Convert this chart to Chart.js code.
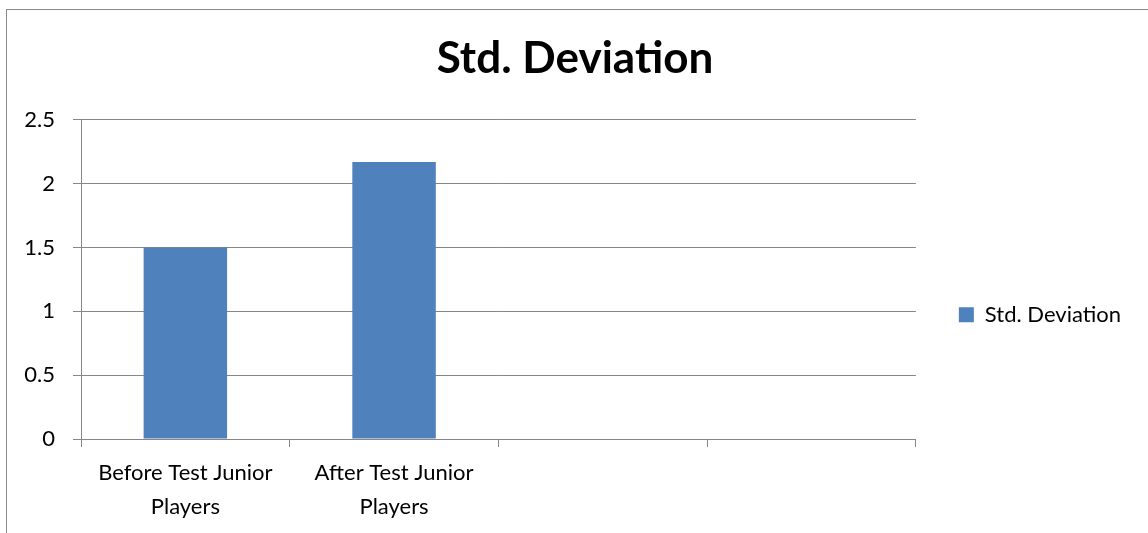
<!DOCTYPE html>
<html>
<head>
<meta charset="utf-8">
<script src="https://cdn.jsdelivr.net/npm/chart.js@4.4.0/dist/chart.umd.min.js"></script>
<style>
  body { margin: 0; background: #fff; }
  #wrap { position: relative; width: 1148px; height: 533px; overflow: hidden; }
  #frame { position: absolute; left: 6px; top: 9px; right: -10px; bottom: -10px; border-left: 1px solid #8a8a8a; border-top: 1px solid #8a8a8a; }
  canvas { position: absolute; left: 0; top: 0; }
</style>
</head>
<body>
<div id="wrap">
  <div id="frame"></div>
  <canvas id="chart" width="1148" height="533"></canvas>
</div>
<script>
const categories = [['Before Test Junior', 'Players'], ['After Test Junior', 'Players'], '', ''];
const stdDeviation = [1.5, 2.17, null, null];
const seriesName = 'Std. Deviation';
const yTicks = [0, 0.5, 1, 1.5, 2, 2.5];

const FONT = 'Lato, "Open Sans", sans-serif';

new Chart(document.getElementById('chart'), {
    type: 'bar',
    data: {
        labels: categories,
        datasets: [{
            label: seriesName,
            data: stdDeviation,
            backgroundColor: '#4F81BD',
            borderWidth: 0,
            categoryPercentage: 1,
            barPercentage: 0.4
        }]
    },
    options: {
        responsive: false,
        animation: false,
        layout: { padding: { left: 19, right: 17, top: 0, bottom: 0 } },
        plugins: {
            title: {
                display: true,
                text: 'Std. Deviation',
                color: '#000',
                font: { family: FONT, size: 44, weight: 'bold', lineHeight: 1.2 },
                padding: { top: 32, bottom: 35 }
            },
            legend: {
                position: 'right',
                // empty legend title only pushes the entry down to the "1" gridline
                title: { display: true, text: '', padding: { top: 0, bottom: 70 }, font: { size: 22 } },
                labels: {
                    color: '#000',
                    font: { family: FONT, size: 22 },
                    boxWidth: 15,
                    boxHeight: 15,
                    padding: 43
                }
            },
            tooltip: { enabled: false }
        },
        scales: {
            x: {
                grid: { display: true, drawOnChartArea: false, drawTicks: true, tickLength: 8, color: '#868686', offset: true },
                border: { color: '#868686' },
                ticks: { color: '#000', font: { family: FONT, size: 22, lineHeight: 1.55 }, maxRotation: 0, padding: 9 },
                afterFit: s => { s.height = 94; }
            },
            y: {
                min: 0,
                max: 2.5,
                afterBuildTicks: s => { s.ticks = yTicks.map(v => ({ value: v })); },
                grid: { color: '#868686', tickLength: 8 },
                border: { color: '#868686' },
                ticks: { color: '#000', font: { family: FONT, size: 22 }, padding: 18, callback: v => String(v) },
                afterFit: s => { s.width = 62; }
            }
        }
    }
});
</script>
</body>
</html>
